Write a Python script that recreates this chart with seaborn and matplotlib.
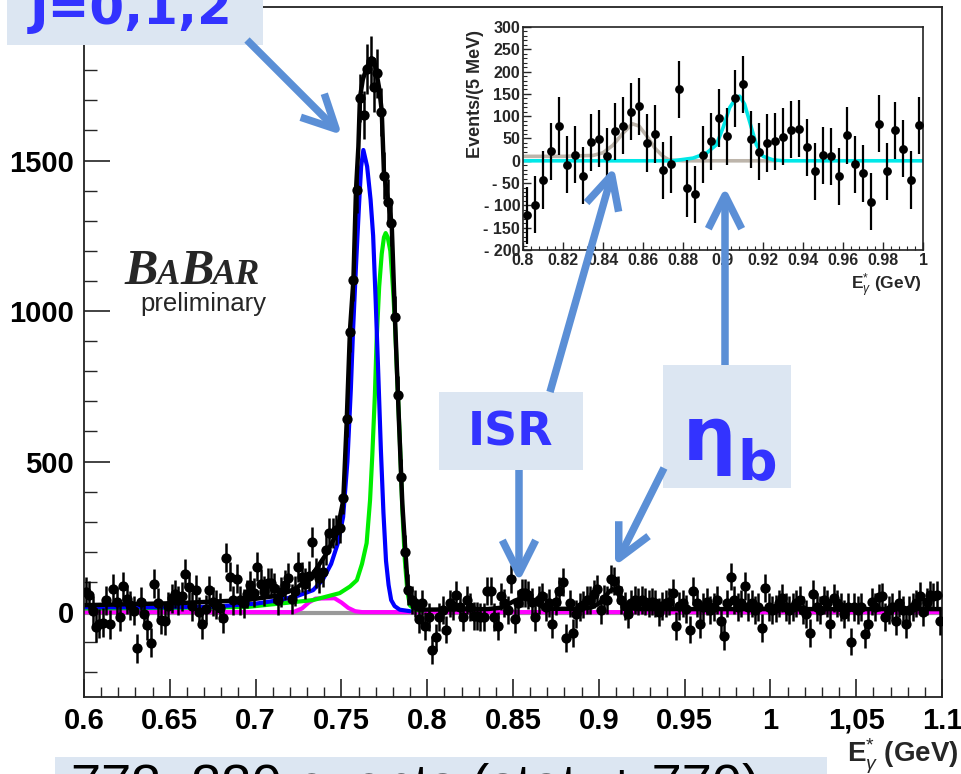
import numpy as np
import pandas as pd
import matplotlib
matplotlib.use("Agg")
import matplotlib.pyplot as plt
import seaborn as sns
from matplotlib.patches import Rectangle
from matplotlib.ticker import MultipleLocator

sns.set_theme(style="ticks")
plt.rcParams["font.family"] = ["Liberation Sans", "DejaVu Sans"]
plt.rcParams["mathtext.fontset"] = "custom"
plt.rcParams["mathtext.rm"] = "Liberation Sans"
plt.rcParams["mathtext.bf"] = "Liberation Sans:bold"
plt.rcParams["mathtext.it"] = "Liberation Sans:italic"

# ---------------- main histogram (2 MeV bins) ----------------
bin_start = 0.601
bin_width = 0.002
counts_a = [67, 56, 5, -50, -39, -35, 39, -41, 78, 34, -15, 86, 42, 23, 5, -120, 34, -5,
            -43, -102, 95, 31, -25, -29, 20, 46, 60, 40, 53, 128, 84, 20, 75, 1, -40, 10,
            73, 35, 25, 15, -21, 181, 117, 40, 111, 40, 30, 60, 90, 65, 150, 95]
counts_b = [70, 96, 96, 79, 40, 68, 90, 113, 43, 70, 150, 117, 95, 120, 233, 130, 113, 134,
            206, 262, 262, 272, 279]
counts_c = [380, 640, 930, 1103, 1402, 1708, 1651, 1804, 1831, 1744, 1790, 1661, 1449, 1362,
            1292, 980, 720, 450, 201, 75]
counts_d = [40, 29, -23, 29, -46, -17, -126, -84, -17, 6, -58, 29, 20, 58, 17, -17, 40, 17,
            -12, -12, -17, -17, 69, 69, -17, -46, 52, 30, 6, 109, -23, 29, 63, 63, 57, 35,
            -17, 40, 52, 17, 30, -40, 35, 69, 100, -86, 29, -69, -6, 17, 25, 40, 40, 60, 77,
            6, 45, 40, 109, 104, 75, 40, 20, -6, 29, 40, 35, 40, 35, 29, 35, 29, 0, 20, 29,
            35, 63, -46, 20, 29, 10, -58, 69, 29, -40, 17, 35, 6, 17, 40, -29, -80, 29, 118,
            40, 17, 29, 86, 17, 29, 6, 17, -52, 80, 17, 6, 12, 29, 46, 17, 6, 17, 29, 40, 6,
            -6, -69, 61, 17, 6, 40, 29, -40, 46, 29, 17, -6, 17, -98, 17, 6, 17, -72, -40, 35,
            17, 49, 52, -17, 6, 17, -29, 29, 6, -40, 6, 17, 29, 54, 0, 35, 58, 52, 57, -29]
err_a = [48] * len(counts_a)
err_b = [50] * len(counts_b)
err_c = [55, 60, 65, 70, 75, 80, 80, 82, 82, 82, 82, 80, 78, 76, 75, 70, 65, 60, 55, 50]
err_d = [46] * len(counts_d)

main_counts = counts_a + counts_b + counts_c + counts_d
main_err = err_a + err_b + err_c + err_d
main_e = bin_start + bin_width * np.arange(len(main_counts))

# fit components
black_e = [0.600, 0.656, 0.695, 0.714, 0.724, 0.7336, 0.7414, 0.7473, 0.7511, 0.753, 0.755,
           0.757, 0.7585, 0.7599, 0.7608, 0.7625, 0.7643, 0.766, 0.7676, 0.769, 0.7705,
           0.772, 0.7735, 0.7748, 0.7774, 0.7793, 0.7812, 0.7835, 0.7855, 0.7873, 0.7888,
           0.7917, 0.795, 0.835, 0.842, 0.847, 0.851, 0.855, 0.859, 0.863, 0.867, 0.872,
           0.890, 0.896, 0.900, 0.903, 0.906, 0.908, 0.910, 0.9125, 0.915, 0.918, 0.922, 1.1]
black_v = [23, 30, 40, 56, 80, 129, 195, 262, 372, 620, 937, 1103, 1402, 1546, 1708, 1770,
           1800, 1825, 1840, 1835, 1790, 1740, 1665, 1460, 1358, 1292, 980, 640, 360, 200, 75,
           17, 8, 10, 14, 25, 38, 46, 42, 30, 18, 11, 11, 16, 28, 45, 68, 76, 70, 50, 28, 14,
           10, 10]
blue_e = [0.600, 0.650, 0.675, 0.700, 0.714, 0.725, 0.7335, 0.739, 0.744, 0.748, 0.751,
          0.7535, 0.7555, 0.7568, 0.7585, 0.7602, 0.7615, 0.7628, 0.765, 0.767, 0.7685,
          0.770, 0.7715, 0.773, 0.7745, 0.776, 0.7775, 0.779, 0.781, 0.784, 0.790]
blue_v = [16, 16, 18, 28, 40, 55, 73, 106, 160, 230, 316, 500, 740, 937, 1150, 1345, 1480,
          1535, 1480, 1370, 1250, 1030, 790, 540, 330, 170, 90, 40, 20, 8, 3]
green_e = [0.600, 0.650, 0.695, 0.7335, 0.749, 0.755, 0.759, 0.762, 0.7647, 0.7667, 0.768,
           0.7695, 0.7705, 0.772, 0.7735, 0.7748, 0.7758, 0.777, 0.7785, 0.780, 0.7812,
           0.7825, 0.784, 0.7855, 0.787, 0.7885, 0.790, 0.793, 0.797]
green_v = [12, 14, 17, 40, 63, 85, 106, 160, 229, 372, 520, 720, 900, 1080, 1190, 1245, 1259,
           1245, 1200, 1080, 960, 780, 580, 340, 170, 65, 22, 8, 3]
magenta_e = [0.600, 0.722, 0.727, 0.731, 0.735, 0.746, 0.750, 0.754, 0.758, 0.762, 1.100]
magenta_v = [0, 0, 12, 32, 45, 46, 32, 14, 3, 0, 0]
grey_e = [0.600, 1.100]
grey_v = [-4, -4]

# ---------------- inset (4 MeV bins) ----------------
inset_e = [0.802, 0.806, 0.810, 0.814, 0.818, 0.822, 0.826, 0.830, 0.834, 0.838, 0.842,
           0.846, 0.850, 0.854, 0.858, 0.862, 0.866, 0.870, 0.874, 0.878, 0.882, 0.886,
           0.890, 0.894, 0.898, 0.902, 0.906, 0.910, 0.914, 0.918, 0.922, 0.926, 0.930,
           0.934, 0.938, 0.942, 0.946, 0.950, 0.954, 0.958, 0.962, 0.966, 0.970, 0.974,
           0.978, 0.982, 0.986, 0.990, 0.994, 0.998]
inset_counts = [-122, -99, -43, 21, 78, -9, 14, -33, 42, 49, 10, 66, 79, 110, 122, 40, 60,
                -21, -8, 160, -62, -75, 14, 44, 96, 55, 140, 172, 48, 20, 40, 44, 54, 70, 72,
                30, -23, 12, 10, -35, 57, -8, -28, -92, 83, -23, 68, 27, -43, 80]
inset_err = [64] * len(inset_counts)
isr_e = [0.800, 0.820, 0.835, 0.840, 0.845, 0.850, 0.8547, 0.858, 0.862, 0.866, 0.870,
         0.873, 0.880, 0.9267]
isr_v = [10, 10, 12, 18, 35, 62, 83, 78, 55, 28, 10, 2, 0, 0]
etab_e = [0.800, 0.875, 0.885, 0.8917, 0.8967, 0.900, 0.9033, 0.9067, 0.9083, 0.9108,
          0.9142, 0.9167, 0.920, 0.925, 0.930, 1.000]
etab_v = [0, 0, 6, 17, 36, 74, 119, 142, 145, 127, 74, 36, 10, 2, 0, 0]

main_xticks = [0.6, 0.65, 0.7, 0.75, 0.8, 0.85, 0.9, 0.95, 1.0, 1.05, 1.1]
main_xlabels = ["0.6", "0.65", "0.7", "0.75", "0.8", "0.85", "0.9", "0.95", "1", "1,05", "1.1"]
main_yticks = [0, 500, 1000, 1500]
main_ylabels = ["0", "500", "1000", "1500"]
inset_xticks = [0.8, 0.82, 0.84, 0.86, 0.88, 0.9, 0.92, 0.94, 0.96, 0.98, 1.0]
inset_xlabels = ["0.8", "0.82", "0.84", "0.86", "0.88", "0.9", "0.92", "0.94", "0.96", "0.98", "1"]
inset_yticks = [-200, -150, -100, -50, 0, 50, 100, 150, 200, 250, 300]
inset_ylabels = ["- 200", "- 150", "- 100", "- 50", "0", "50", "100", "150", "200", "250", "300"]

W, H = 961, 774
fig = plt.figure(figsize=(W / 100, H / 100), dpi=100)
fig.patch.set_facecolor("white")


def px_rect(l, t, r, b):
    return [l / W, 1 - b / H, (r - l) / W, (b - t) / H]


# ---------------- main axes ----------------
ax = fig.add_axes(px_rect(84, 7, 942, 697))
ax.set_facecolor("white")
for e, v, c, lw in [(grey_e, grey_v, "#999999", 3.0), (magenta_e, magenta_v, "#ff00ff", 3.0),
                    (green_e, green_v, "#00ee00", 3.0), (blue_e, blue_v, "#0000ff", 3.0),
                    (black_e, black_v, "#000000", 3.2)]:
    sns.lineplot(x=e, y=v, ax=ax, color=c, lw=lw, estimator=None, sort=False, zorder=2)

main_df = pd.DataFrame({"E": main_e, "N": main_counts, "err": main_err})
ax.vlines(main_df["E"], main_df["N"] - main_df["err"], main_df["N"] + main_df["err"],
          color="black", lw=1.8, zorder=3)
sns.scatterplot(data=main_df, x="E", y="N", ax=ax, color="black", s=55, edgecolor="black",
                linewidth=0, zorder=4)

ax.set_xlim(0.6, 1.1)
ax.set_ylim(-282, 2010)
ax.set_xlabel("")
ax.set_ylabel("")
ax.set_xticks(main_xticks)
ax.set_xticklabels(main_xlabels)
ax.set_yticks(main_yticks)
ax.set_yticklabels(main_ylabels)
ax.xaxis.set_minor_locator(MultipleLocator(0.01))
ax.yaxis.set_minor_locator(MultipleLocator(100))
ax.tick_params(axis="x", which="major", direction="in", length=13, width=1.2, pad=7,
               labelsize=21, colors="#222222", labelcolor="black", top=False)
ax.tick_params(axis="x", which="minor", direction="in", length=7, width=1.0, top=False)
ax.tick_params(axis="y", which="major", direction="in", length=19, width=1.2, pad=7,
               labelsize=21, colors="#222222", labelcolor="black", right=False)
ax.tick_params(axis="y", which="minor", direction="in", length=9.5, width=1.0, right=False)
for lab in ax.get_xticklabels() + ax.get_yticklabels():
    lab.set_fontweight("bold")
for s in ax.spines.values():
    s.set_color("#222222")
    s.set_linewidth(1.3)

# ---------------- inset ----------------
axi = fig.add_axes(px_rect(523, 27, 923, 250))
axi.set_facecolor("white")
sns.lineplot(x=isr_e, y=isr_v, ax=axi, color="#bdb5ab", lw=2.6, estimator=None, sort=False,
             zorder=2)
sns.lineplot(x=etab_e, y=etab_v, ax=axi, color="#00e8e8", lw=2.6, estimator=None, sort=False,
             zorder=2.5)
inset_df = pd.DataFrame({"E": inset_e, "N": inset_counts, "err": inset_err})
axi.vlines(inset_df["E"], inset_df["N"] - inset_df["err"], inset_df["N"] + inset_df["err"],
           color="black", lw=1.6, zorder=3)
sns.scatterplot(data=inset_df, x="E", y="N", ax=axi, color="black", s=40, linewidth=0, zorder=4)
axi.set_xlim(0.8, 1.0)
axi.set_ylim(-200, 300)
axi.set_xlabel("")
axi.set_ylabel("")
axi.set_xticks(inset_xticks)
axi.set_xticklabels(inset_xlabels)
axi.set_yticks(inset_yticks)
axi.set_yticklabels(inset_ylabels)
axi.xaxis.set_minor_locator(MultipleLocator(0.004))
axi.yaxis.set_minor_locator(MultipleLocator(10))
axi.tick_params(axis="both", which="major", direction="in", length=6, width=1.0, pad=2,
                labelsize=11.5, top=False, right=False)
axi.tick_params(axis="both", which="minor", direction="in", length=3, width=0.8,
                top=False, right=False)
for lab in axi.get_xticklabels() + axi.get_yticklabels():
    lab.set_fontweight("bold")
for s in axi.spines.values():
    s.set_color("#222222")
    s.set_linewidth(1.2)

# ---------------- overlay (labels, boxes, arrows) ----------------
ov = fig.add_axes([0, 0, 1, 1], zorder=10)
ov.set_xlim(0, W)
ov.set_ylim(H, 0)
ov.set_axis_off()

ov.text(476, 94, "Events/(5 MeV)", rotation=90, ha="center", va="center", fontsize=13,
        fontweight="bold")
ov.text(922, 286, r"$\mathbf{E}^{*}_{\gamma}$ (GeV)", ha="right", va="center", fontsize=12.5,
        fontweight="bold")
ov.text(959, 756, r"$\mathbf{E}^{*}_{\gamma}$ (GeV)", ha="right", va="center", fontsize=20,
        fontweight="bold")

# BaBar logo
for xx, ch, fs in [(124, "B", 36), (157, "A", 25), (180, "B", 36), (212, "AR", 26)]:
    ov.text(xx, 284, ch, fontsize=fs, fontfamily="Liberation Serif", fontweight="bold",
            fontstyle="italic", ha="left", va="baseline")
ov.text(140, 311, "preliminary", fontsize=18.5, ha="left", va="baseline")

box_c = "#dce6f2"
txt_c = "#3333ff"
arr_c = "#5b8fd6"
ov.add_patch(Rectangle((7, 0), 256, 45, facecolor=box_c, edgecolor="none"))
ov.text(30, 24, "J=0,1,2", fontsize=36, color=txt_c, fontfamily="DejaVu Sans",
        fontweight="bold", ha="left", va="baseline")
ov.add_patch(Rectangle((439, 392), 144, 78, facecolor=box_c, edgecolor="none"))
ov.text(511, 446, "ISR", fontsize=33, color=txt_c, fontfamily="DejaVu Sans",
        fontweight="bold", ha="center", va="baseline")
ov.add_patch(Rectangle((663, 365), 128, 123, facecolor=box_c, edgecolor="none"))
ov.text(683, 460, "\u03b7", fontsize=54, color=txt_c, fontfamily="DejaVu Sans",
        fontweight="bold", ha="left", va="baseline")
ov.text(737, 479, "b", fontsize=40, color=txt_c, fontfamily="DejaVu Sans",
        fontweight="bold", ha="left", va="baseline")
ov.add_patch(Rectangle((55, 757), 772, 20, facecolor=box_c, edgecolor="none"))
ov.text(71, 802, "773, 330 events (stat. \u00b1 770)", fontsize=39, ha="left",
        va="baseline", color="black")

for tail, tip in [((247, 40), (342, 135)), ((550, 392), (614, 167)), ((519, 470), (519, 582)),
                  ((725, 365), (725, 187)), ((664, 468), (615, 566))]:
    ov.annotate("", xy=tip, xytext=tail,
                arrowprops=dict(arrowstyle="->,head_length=1.2,head_width=0.6", lw=5.4,
                                color=arr_c, mutation_scale=20, shrinkA=0, shrinkB=0,
                                capstyle="butt"))

fig.savefig("out.png", dpi=100, facecolor="white")
